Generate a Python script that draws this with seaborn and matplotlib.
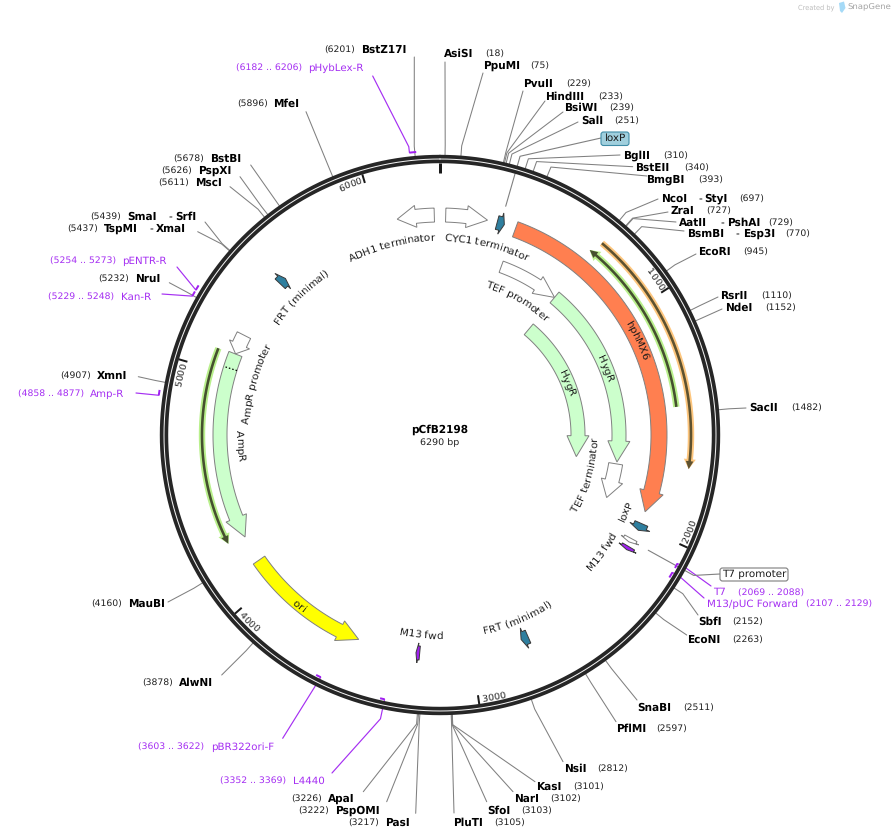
import numpy as np
import pandas as pd
import matplotlib
matplotlib.use("Agg")
import matplotlib.pyplot as plt
from matplotlib.patches import Polygon, FancyBboxPatch
from matplotlib.font_manager import FontProperties, findfont, get_font
from matplotlib.ft2font import LoadFlags
import seaborn as sns

# ---------- data ----------
plasmid_name = "pCfB2198"
plasmid_len = 6290
tick_bp = [1000, 2000, 3000, 4000, 5000, 6000]

site_names = ["AsiSI", "PpuMI", "PvuII", "HindIII", "BsiWI", "SalI", "BglII", "BstEII", "BmgBI",
              "NcoI", "ZraI", "AatII", "BsmBI", "EcoRI", "RsrII", "NdeI", "SacII", "SbfI", "EcoNI",
              "SnaBI", "PflMI", "NsiI", "KasI", "NarI", "SfoI", "PluTI", "PasI", "PspOMI", "ApaI",
              "AlwNI", "MauBI", "XmnI", "NruI", "TspMI", "SmaI", "MscI", "PspXI", "BstBI", "MfeI", "BstZ17I"]
site_bp = [18, 75, 229, 233, 239, 251, 310, 340, 393,
           697, 727, 729, 770, 945, 1110, 1152, 1482, 2152, 2263,
           2511, 2597, 2812, 3101, 3102, 3103, 3105, 3217, 3222, 3226,
           3878, 4160, 4907, 5232, 5437, 5439, 5611, 5626, 5678, 5896, 6201]
site_alias = {"NcoI": "StyI", "AatII": "PshAI", "BsmBI": "Esp3I", "SmaI": "SrfI", "TspMI": "XmaI"}

primer_names = ["pHybLex-R", "pENTR-R", "Kan-R", "Amp-R", "pBR322ori-F", "L4440", "T7", "M13/pUC Forward"]
primer_start = [6182, 5254, 5229, 4858, 3603, 3352, 2069, 2107]
primer_end = [6206, 5273, 5248, 4877, 3622, 3369, 2088, 2129]

feature_names = ["hphMX6", "HygR", "HygR", "TEF promoter", "TEF terminator", "CYC1 terminator",
                 "ADH1 terminator", "AmpR", "AmpR promoter", "ori",
                 "FRT (minimal)", "loxP", "FRT (minimal)", "FRT (minimal)", "M13 fwd", "M13 fwd", "T7 promoter"]
feature_tail = [351, 695, 699, 349, 1735, 26, 6264, 5095, 5189, 4112, 263, 1987, 2733, 5476, 3238, 2107, 2069]
feature_tip = [1931, 1724, 1730, 695, 1932, 218, 6094, 4235, 5096, 3524, 297, 2021, 2767, 5510, 3255, 2124, 2088]

orf_tail = [702, 1454, 5091]
orf_tip = [1709, 681, 4242]

# ---------- layout (pixels of the 896x840 canvas) ----------
CX, CY = 440.0, 435.0
R_OUT, R_IN = 280.0, 272.0
R_ELBOW = 290.0

site_layout = {  # name x, y, number x, leader end x, y
    "AsiSI": (445, 54, 486, 445, 62), "PpuMI": (484, 66, 531, 483, 73), "PvuII": (524, 84, 567, 523, 91),
    "HindIII": (546, 96.5, 599, 545, 101), "BsiWI": (565, 108, 610, 563, 112), "SalI": (582, 120.5, 615, 578, 122),
    "BglII": (624, 156, 664, 620, 155), "BstEII": (636, 168, 685, 632.7, 166.7), "BmgBI": (647, 180, 699, 647, 176),
    "NcoI": (662, 198.5, 740, 658, 199), "ZraI": (672, 210.5, 707, 668, 212), "AatII": (680, 222.5, 769, 676, 222),
    "BsmBI": (688, 234, 786, 684, 231), "EcoRI": (699, 252, 744, 696, 254), "RsrII": (721, 296, 762, 718, 297),
    "NdeI": (726, 308, 766, 722, 309), "SacII": (750, 408, 792, 746, 408), "SbfI": (699, 622, 733, 698, 615),
    "EcoNI": (688, 640, 733, 686.7, 635), "SnaBI": (638, 708, 684, 637, 700), "PflMI": (617, 729, 657, 616, 721.7),
    "NsiI": (565, 769, 598, 563, 761.7), "KasI": (537, 787, 574, 535, 781.7), "NarI": (515, 799, 551, 513, 791.7),
    "SfoI": (488, 811, 522, 486.7, 801.7), "PluTI": (454, 823, 495, 454, 813), "PasI": (386, 823, 349, 415.7, 813.3),
    "PspOMI": (336, 811, 299, 386.7, 801.7), "ApaI": (329, 799, 292, 363.3, 791.7), "AlwNI": (180, 683, 143, 221.7, 675),
    "MauBI": (129, 604, 92, 168, 602), "XmnI": (98, 376, 61, 138.3, 376.7), "NruI": (136, 279, 99, 169.3, 282.7),
    "TspMI": (105, 229, 68, 197.7, 231.7), "SmaI": (128, 217, 91, 205, 222), "MscI": (196, 183, 159, 230, 186.7),
    "PspXI": (199, 171, 162, 240, 176.7), "BstBI": (211, 159, 174, 250.7, 165), "MfeI": (274, 104, 238, 306, 111.7),
    "BstZ17I": (362, 50, 325, 414.3, 57),
}
alias_layout = {"NcoI": (698, 705), "AatII": (720, 728), "BsmBI": (735, 744), "SmaI": (168, 176), "TspMI": (149, 157)}

primer_layout = {  # name x, y, number x, leader end x, y, mark radius, elbow radius
    "pHybLex-R": (309, 68, 236, 372.7, 76, 284, 290), "pENTR-R": (123, 261, 50, 177, 267, 284, 284),
    "Kan-R": (122, 297, 49, 162, 294, 284, 284), "Amp-R": (91, 394, 18, 136, 393, 284, 284),
    "pBR322ori-F": (212, 747, 139, 282.7, 738.3, 270, 270), "L4440": (294, 781, 221, 332, 773, 270, 290),
    "T7": (714, 592.5, 738, 711, 586, 270, 280), "M13/pUC Forward": (708, 604, 806, 704, 598, 270, 279),
}

# radius of body, half width of body, half width of head
feature_geom = [(219, 8, 12), (179, 7, 11), (138, 7, 11), (179, 6, 10), (178, 7, 11), (220, 7, 11),
                (220, 7, 11), (220, 7, 11), (220, 7.5, 11), (220, 7, 11),
                (220, 7, 11), (220, 7, 11), (220, 7, 11), (220, 7, 11), (219, 7, 10), (219, 7, 10), (217, 7, 10)]
feature_fill = ["#FF7F50", "#CCFFCC", "#CCFFCC", "#FFFFFF", "#FFFFFF", "#FFFFFF",
                "#FFFFFF", "#CCFFCC", "#FFFFFF", "#FFFF00",
                "#2F7F9F", "#2F7F9F", "#2F7F9F", "#2F7F9F", "#A020F0", "#A020F0", "#FFFFFF"]
# label: feature index, radius, angle in degrees, tops toward centre
feature_text = [(0, 220, 64.1, False), (1, 179, 68, False), (2, 138.3, 67.5, False), (3, 158, 29.7, False),
                (4, 153.6, 105.5, True), (5, 197.6, 13.7, False), (6, 198.4, 345.4, False), (7, 200.3, 267, True),
                (8, 195, 285.5, False), (9, 220.9, 219.7, True), (11, 200.5, 112.7, True),
                (12, 200, 157.4, True), (13, 199, 314.7, False), (14, 200, 185.5, True), (15, 199.4, 125.8, True)]
orf_geom = [(251, "#FDC67E", "#5E5230"), (238, "#B9F08C", "#45502F"), (238, "#B9F08C", "#45502F")]

GREY = "#808080"
PURPLE = "#A52FF2"
PX = 0.72  # one pixel in points

sns.set_theme(style="white")
plt.rcParams["font.family"] = ["DejaVu Sans"]
plt.rcParams["text.hinting"] = "no_hinting"

fig = plt.figure(figsize=(8.96, 8.40), dpi=100)
ax = fig.add_axes([0, 0, 1, 1])
ax.set_xlim(0, 896)
ax.set_ylim(840, 0)
ax.axis("off")


def deg(bp):
    return np.asarray(bp, dtype=float) / plasmid_len * 360.0


def polar(a, r):
    t = np.radians(a)
    return CX + r * np.sin(t), CY - r * np.cos(t)


def arc(a0, a1, r, n=60):
    return polar(np.linspace(a0, a1, n), r)


def arrow_points(tail, tip, r, hw, wing, head_px=21.0):
    a0, a1 = float(deg(tail)), float(deg(tip))
    span = a1 - a0
    sign = np.sign(span)
    head = min(np.degrees(head_px / r), abs(span) * 0.5) * sign
    b = a1 - head
    ox, oy = arc(a0, b, r + hw)
    ix, iy = arc(b, a0, r - hw)
    wx, wy = polar(np.array([b, a1, b]), np.array([r + wing, r, r - wing]))
    return np.column_stack([np.r_[ox, wx, ix], np.r_[oy, wy, iy]])


font_cache = {}


def glyph_metrics(ch, size):
    """advance and the centre of the box matplotlib aligns a single glyph on, in pixels"""
    if size not in font_cache:
        f = get_font(findfont(FontProperties(family="DejaVu Sans")))
        f.set_size(size, 100)
        font_cache[size] = f
    g = font_cache[size].load_char(ord(ch), flags=LoadFlags.NO_HINTING)
    adv = g.linearHoriAdvance / 65536.0
    left = g.horiBearingX / 64.0
    right = max(adv, left + g.width / 64.0)
    return adv, (left + right) / 2.0


def curved(s, r, a, size=7.5, flip=False, color="#1a1a1a"):
    metrics = [glyph_metrics(c, size) for c in s]
    total = sum(m[0] for m in metrics)
    pos = 0.0
    off = 0.37 * size * 100 / 72
    for c, (w, mid) in zip(s, metrics):
        d = pos + mid - total / 2
        pos += w
        if c == " ":
            continue
        if flip:
            ang = a - np.degrees(d / r)
            rot, rb = 180 - ang, r + off
        else:
            ang = a + np.degrees(d / r)
            rot, rb = -ang, r - off
        x, y = polar(ang, rb)
        ax.text(x, y, c, rotation=rot, rotation_mode="anchor", ha="center", va="baseline",
                fontsize=size, color=color, zorder=8)


# leaders of enzyme sites
for name, bp in zip(site_names, site_bp):
    nx, ny, numx, ex, ey = site_layout[name]
    a = float(deg(bp))
    x0, y0 = polar(a, R_OUT - 2)
    x1, y1 = polar(a, R_ELBOW)
    ax.plot([x0, x1, ex], [y0, y1, ey], color=GREY, lw=0.75, solid_joinstyle="round", zorder=1)
    ax.text(nx - 1, ny, name, fontsize=7.6, fontweight="bold", color="black", ha="left", va="center", zorder=8)
    ax.text(numx - 0.7, ny + 0.7, f"({bp})", fontsize=6.7, color="#222222", ha="left", va="center", zorder=8)
    if name in site_alias:
        dx, ax_x = alias_layout[name]
        ax.text(dx, ny, "-", fontsize=7.6, color="black", ha="left", va="center", zorder=8)
        ax.text(ax_x - 1, ny, site_alias[name], fontsize=7.6, fontweight="bold", color="black",
                ha="left", va="center", zorder=8)

# leaders of primers
for name, s, e in zip(primer_names, primer_start, primer_end):
    nx, ny, numx, ex, ey, mr, er = primer_layout[name]
    a0, a1 = float(deg(s)), float(deg(e))
    xm, ym = polar(a0, mr)
    xe, ye = polar(a0, er)
    ax.plot([xm, xe, ex], [ym, ye, ey], color=PURPLE, lw=0.85, zorder=1)
    ax.text(nx - 0.7, ny, name, fontsize=7.4, color=PURPLE, ha="left", va="center", zorder=8)
    ax.text(numx - 0.5, ny + 0.5, f"({s} .. {e})", fontsize=6.7, color=PURPLE, ha="left", va="center", zorder=8)

# feature call-outs crossing the ring
for box_name, idx, bx, by in [("loxP", 10, 601, 138), ("T7 promoter", 16, 720, 574)]:
    a = float(deg((feature_tail[idx] + feature_tip[idx]) / 2))
    x1, y1 = polar(a, R_ELBOW)
    x2, y2 = polar(a, 238)
    ax.plot([bx, x1, x2], [by, y1, y2], color=GREY, lw=0.8, zorder=1)

# backbone ring, through seaborn
theta = np.linspace(0, plasmid_len, 721)
rx, ry = polar(deg(theta), (R_OUT + R_IN) / 2)
ring = pd.DataFrame({"x": rx, "y": ry})
sns.lineplot(data=ring, x="x", y="y", sort=False, estimator=None, color="#262626", lw=8.4 * PX, ax=ax, zorder=3)
sns.lineplot(data=ring, x="x", y="y", sort=False, estimator=None, color="#F4F4F4", lw=1.0 * PX, ax=ax, zorder=4)
ax.set_xlim(0, 896)
ax.set_ylim(840, 0)
ax.set_xlabel("")
ax.set_ylabel("")
ax.axis("off")

# ticks
x0, y0 = polar(0.0, R_IN)
x1, y1 = polar(0.0, R_IN - 10)
ax.plot([x0, x1], [y0, y1], color="#1a1a1a", lw=3 * PX, solid_capstyle="butt", zorder=5)
for t in tick_bp:
    a = float(deg(t))
    x0, y0 = polar(a, R_IN)
    x1, y1 = polar(a, R_IN - 9)
    ax.plot([x0, x1], [y0, y1], color="#1a1a1a", lw=2 * PX, solid_capstyle="butt", zorder=5)
    ta = a - 3.2
    curved(str(t), 266.8, ta, size=6.8, flip=90 < ta < 270, color="#222222")

# primer marks
for name, s, e in zip(primer_names, primer_start, primer_end):
    mr = primer_layout[name][5]
    mx, my = arc(float(deg(s)), float(deg(e)), mr, 8)
    ax.plot(mx, my, color="#A020F0", lw=2 * PX, solid_capstyle="butt", zorder=6)

# thin translated strands
for tail, tip, (r, halo, dark) in zip(orf_tail, orf_tip, orf_geom):
    ax.add_patch(Polygon(arrow_points(tail, tip, r, 3.2, 6, 10), closed=True, fc=halo, ec="none", zorder=5))
    ax.add_patch(Polygon(arrow_points(tail, tip, r, 1.3, 3.8, 8), closed=True, fc=dark, ec="none", zorder=6))

# features
for tail, tip, (r, hw, wing), fill in zip(feature_tail, feature_tip, feature_geom, feature_fill):
    dark_edge = fill in ("#2F7F9F", "#A020F0")
    ax.add_patch(Polygon(arrow_points(tail, tip, r, hw, wing), closed=True, fc=fill,
                         ec="#3a3a3a" if dark_edge else GREY, lw=0.7, joinstyle="miter", zorder=5))

# dotted mark on AmpR
dx, dy = polar(float(deg(5025)), np.array([213.0, 227.0]))
ax.plot(dx, dy, color="black", lw=0.9, ls=(0, (1.2, 1.6)), zorder=6)

# feature labels
for idx, r, a, flip in feature_text:
    curved(feature_names[idx], r, a, size=7.5, flip=flip)

# boxed labels
ax.add_patch(FancyBboxPatch((603, 134), 24, 9.5, boxstyle="round,pad=2,rounding_size=2.5",
                            fc="#A0CFDD", ec="#3F8CA6", lw=0.8, zorder=7))
ax.text(615, 138.5, "loxP", fontsize=7.5, color="#1a1a1a", ha="center", va="center", zorder=8)
ax.add_patch(FancyBboxPatch((722, 570), 64, 9, boxstyle="round,pad=2,rounding_size=2.5",
                            fc="white", ec="#7d7d7d", lw=0.8, zorder=7))
ax.text(754, 574.5, "T7 promoter", fontsize=7.5, color="#1a1a1a", ha="center", va="center", zorder=8)

# centre
ax.text(CX, 430, plasmid_name, fontsize=7.6, fontweight="bold", color="black", ha="center", va="center", zorder=8)
ax.text(CX, 442.5, f"{plasmid_len} bp", fontsize=6.8, color="#222222", ha="center", va="center", zorder=8)

# watermark
ax.text(798, 8, "Created by", fontsize=4.8, color="#BDBDBD", ha="left", va="center", zorder=8)
ax.add_patch(Polygon([[839, 3], [844, 1.5], [845.5, 8], [842, 13], [840, 11]], closed=True,
                     fc="#A5DAF7", ec="none", zorder=8))
ax.text(847.5, 7.5, "SnapGene", fontsize=6.1, color="#A3A3A3", ha="left", va="center", zorder=8)

fig.savefig("out.png", dpi=100, facecolor="white")
